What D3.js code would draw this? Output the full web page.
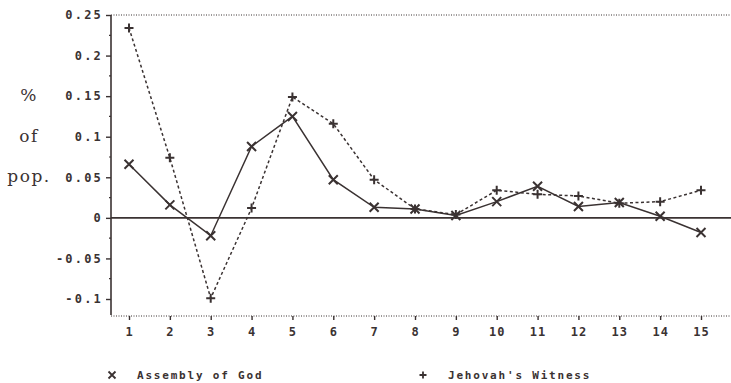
<!DOCTYPE html>
<html>
<head>
<meta charset="utf-8">
<script src="https://cdn.jsdelivr.net/npm/d3@7"></script>
<style>
  body { margin: 0; background: #fff; }
  svg { display: block; }
</style>
</head>
<body>
<div id="mainDiv"></div>
<script>
// data
var groups = [1, 2, 3, 4, 5, 6, 7, 8, 9, 10, 11, 12, 13, 14, 15];
var assemblyOfGod = [0.066, 0.016, -0.022, 0.088, 0.125, 0.047, 0.013, 0.011, 0.003, 0.020, 0.039, 0.014, 0.019, 0.002, -0.018];
var jehovahsWitness = [0.234, 0.074, -0.099, 0.012, 0.149, 0.116, 0.047, 0.011, 0.004, 0.034, 0.029, 0.027, 0.018, 0.020, 0.034];
var yTicks = [-0.1, -0.05, 0, 0.05, 0.1, 0.15, 0.2, 0.25];
var yTickLabels = ["-0.1", "-0.05", "0", "0.05", "0.1", "0.15", "0.2", "0.25"];
var yTitle = ["%", "of", "pop."];
var legendNames = ["Assembly of God", "Jehovah's Witness"];

var ink = "#3a3232";
var width = 731, height = 383;

var svg = d3.select("#mainDiv").append("svg")
  .attr("width", width)
  .attr("height", height)
  .attr("id", "graph");

var x = d3.scaleLinear().domain([1, 15]).range([129, 701]);
var y = d3.scaleLinear().domain([-0.1, 0.25]).range([299, 15]);
var axisLeft = 111, axisBottom = 316;

// frame lines: dotted top & bottom, solid zero line
svg.append("line")
  .attr("x1", axisLeft).attr("x2", width)
  .attr("y1", y(0.25)).attr("y2", y(0.25))
  .attr("stroke", ink).attr("stroke-width", 1)
  .attr("stroke-dasharray", "1,1.5");
svg.append("line")
  .attr("x1", axisLeft).attr("x2", width)
  .attr("y1", axisBottom).attr("y2", axisBottom)
  .attr("stroke", ink).attr("stroke-width", 1)
  .attr("stroke-dasharray", "1,1.5");
svg.append("line")
  .attr("x1", axisLeft).attr("x2", width)
  .attr("y1", y(0)).attr("y2", y(0))
  .attr("stroke", ink).attr("stroke-width", 1.6);

// y axis
var yAxis = svg.append("g")
  .attr("transform", "translate(" + axisLeft + ",0)")
  .call(d3.axisLeft(y).tickValues(yTicks).tickSize(5).tickPadding(3)
    .tickFormat(function(d, i) { return yTickLabels[i]; }));
yAxis.select(".domain").remove();
yAxis.selectAll("line").attr("stroke", ink).attr("stroke-width", 1.4);
yAxis.selectAll("text")
  .attr("fill", ink)
  .attr("font-family", "'DejaVu Sans Mono', monospace")
  .attr("font-weight", "bold")
  .attr("font-size", "12px")
  .attr("letter-spacing", "2.2px");
svg.append("line")
  .attr("x1", axisLeft).attr("x2", axisLeft)
  .attr("y1", y(0.25)).attr("y2", axisBottom - 1)
  .attr("stroke", ink).attr("stroke-width", 1.6);
// minor ticks
svg.selectAll(".minor").data(d3.range(-0.1, 0.25, 0.05).map(function(d) { return d + 0.025; }))
  .enter().append("line")
  .attr("class", "minor")
  .attr("x1", axisLeft - 2).attr("x2", axisLeft)
  .attr("y1", function(d) { return y(d); }).attr("y2", function(d) { return y(d); })
  .attr("stroke", ink).attr("stroke-width", 1.2);

// x axis ticks + labels
var xAxis = svg.append("g")
  .attr("transform", "translate(0," + axisBottom + ")")
  .call(d3.axisBottom(x).tickValues(groups).tickSize(4).tickPadding(7).tickFormat(d3.format("d")));
xAxis.select(".domain").remove();
xAxis.selectAll("line").attr("stroke", ink).attr("stroke-width", 1.4);
xAxis.selectAll("text")
  .attr("fill", ink)
  .attr("font-family", "'DejaVu Sans Mono', monospace")
  .attr("font-weight", "bold")
  .attr("font-size", "12px")
  .attr("letter-spacing", "1px");

// y title
svg.selectAll(".ytitle").data(yTitle).enter().append("text")
  .attr("class", "ytitle")
  .attr("x", 29)
  .attr("y", function(d, i) { return y([0.15, 0.1, 0.05][i]) + 5; })
  .attr("text-anchor", "middle")
  .attr("fill", ink)
  .attr("font-family", "'DejaVu Serif', serif")
  .attr("font-size", "17px")
  .attr("letter-spacing", "1.5px")
  .text(function(d) { return d; });

// lines
var line = d3.line()
  .x(function(d, i) { return x(groups[i]); })
  .y(function(d) { return y(d); });

svg.append("path")
  .datum(assemblyOfGod)
  .attr("d", line)
  .attr("fill", "none")
  .attr("stroke", ink)
  .attr("stroke-width", 1.5);

svg.append("path")
  .datum(jehovahsWitness)
  .attr("d", line)
  .attr("fill", "none")
  .attr("stroke", ink)
  .attr("stroke-width", 1.5)
  .attr("stroke-dasharray", "3,2.5");

function crossPath(cx, cy, s) {
  return "M" + (cx - s) + "," + (cy - s) + "L" + (cx + s) + "," + (cy + s) +
         "M" + (cx - s) + "," + (cy + s) + "L" + (cx + s) + "," + (cy - s);
}
function plusPath(cx, cy, s) {
  return "M" + (cx - s) + "," + cy + "L" + (cx + s) + "," + cy +
         "M" + cx + "," + (cy - s) + "L" + cx + "," + (cy + s);
}

svg.selectAll(".mx").data(assemblyOfGod).enter().append("path")
  .attr("class", "mx")
  .attr("d", function(d, i) { return crossPath(x(groups[i]), y(d), 4.5); })
  .attr("stroke", ink).attr("stroke-width", 2);

svg.selectAll(".mp").data(jehovahsWitness).enter().append("path")
  .attr("class", "mp")
  .attr("d", function(d, i) { return plusPath(x(groups[i]), y(d), 4.5); })
  .attr("stroke", ink).attr("stroke-width", 2);

// legend
var legendX = [112, 423];
var legend = svg.selectAll(".legend").data(legendNames).enter().append("g")
  .attr("class", "legend")
  .attr("transform", function(d, i) { return "translate(" + legendX[i] + ",375)"; });
legend.append("path")
  .attr("d", function(d, i) { return i == 0 ? crossPath(0, 0, 3.5) : plusPath(0, 0, 3.5); })
  .attr("stroke", ink).attr("stroke-width", 1.8);
legend.append("text")
  .attr("x", 25)
  .attr("y", 4)
  .attr("fill", ink)
  .attr("font-family", "'DejaVu Sans Mono', monospace")
  .attr("font-weight", "bold")
  .attr("font-size", "11px")
  .attr("letter-spacing", "1.8px")
  .text(function(d) { return d; });
</script>
</body>
</html>
